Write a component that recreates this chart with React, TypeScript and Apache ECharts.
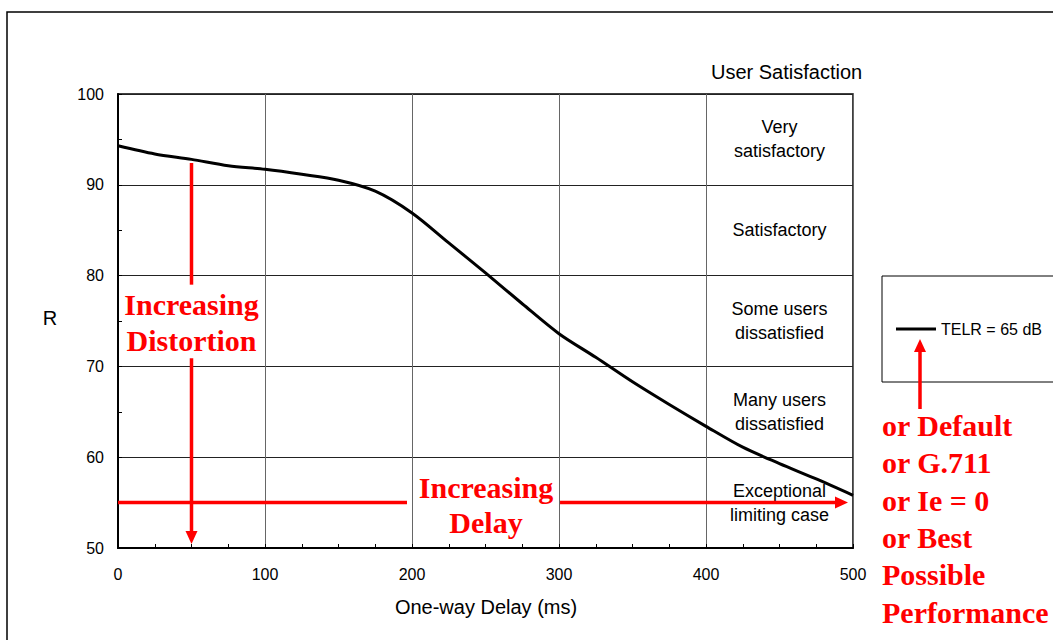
import React, { useEffect, useRef } from "react";
import * as echarts from "echarts";

const SANS = "'Liberation Sans', Arial, sans-serif";
const SERIF = "'Liberation Serif', 'Times New Roman', serif";

const seriesName = "TELR = 65 dB";
const delays = [0, 25, 50, 75, 100, 125, 150, 175, 200, 225, 250, 275, 300, 325, 350, 375, 400, 425, 450, 475, 500];
const rValues = [94.3, 93.4, 92.8, 92.1, 91.7, 91.15, 90.5, 89.3, 86.9, 83.6, 80.3, 76.9, 73.6, 71.0, 68.3, 65.8, 63.4, 61.1, 59.3, 57.6, 55.8];

const zoneNames = ["Very\nsatisfactory", "Satisfactory", "Some users\ndissatisfied", "Many users\ndissatisfied", "Exceptional\nlimiting case"];
const zoneTop = [100, 90, 80, 70, 60];
const zoneBottom = [90, 80, 70, 60, 50];
const zoneColumn = [400, 500];

const xMin = 0, xMax = 500, xStep = 100;
const yMin = 50, yMax = 100, yStep = 10;

// annotation anchors (data units)
const distortionX = 50;
const distortionR = [92.4, 79.0, 70.9, 50.45];
const delayR = 55;
const delayX = [0, 196.6, 300.7, 496.6];

const rightNote = "or Default\nor G.711\nor Ie = 0\nor Best\nPossible\nPerformance";

export default function App() {
  const ref = useRef<HTMLDivElement>(null);
  useEffect(() => {
    if (!ref.current) return;
    const chart = echarts.init(ref.current, null, { renderer: "svg" });
    const option: any = {
      animation: false,
      backgroundColor: "#fff",
      textStyle: { fontFamily: SANS },
      grid: { left: 118, top: 94, width: 735, height: 454, show: true, borderColor: "#000", borderWidth: 1.5, containLabel: false },
      xAxis: {
        type: "value", min: xMin, max: xMax, interval: xStep,
        axisLine: { lineStyle: { color: "#000", width: 2 } },
        axisTick: { show: true, inside: true, length: 4, lineStyle: { color: "#000" } },
        minorTick: { show: true, splitNumber: 4, length: 4, lineStyle: { color: "#000", width: 1 } },
        splitLine: { show: true, lineStyle: { color: "#666", width: 1 } },
        axisLabel: { fontSize: 16, color: "#000", margin: 18, fontFamily: SANS },
      },
      yAxis: {
        type: "value", min: yMin, max: yMax, interval: yStep,
        axisLine: { show: true, lineStyle: { color: "#000", width: 2 } },
        axisTick: { show: true, inside: true, length: 4, lineStyle: { color: "#000" } },
        minorTick: { show: true, splitNumber: 2, length: 4, lineStyle: { color: "#000", width: 1 } },
        splitLine: { show: true, lineStyle: { color: "#222", width: 1 } },
        axisLabel: { fontSize: 16, color: "#000", margin: 14, fontFamily: SANS },
      },
      legend: {
        data: [{ name: seriesName, icon: "rect" }], left: 882, top: 276, orient: "horizontal",
        padding: [45, 40, 45, 14], borderColor: "#000", borderWidth: 1,
        itemWidth: 40, itemHeight: 3,
        itemStyle: { color: "#000", borderWidth: 0 },
        textStyle: { fontSize: 16, color: "#000", fontFamily: SANS },
      },
      series: [
        {
          name: seriesName, type: "line", smooth: 0.3, symbol: "none",
          data: delays.map((d, i) => [d, rValues[i]]),
          lineStyle: { color: "#000", width: 3 }, itemStyle: { color: "#000" },
          markArea: {
            silent: true,
            itemStyle: { color: "rgba(0,0,0,0)" },
            label: { show: true, position: "inside", fontSize: 18, color: "#000", lineHeight: 24, fontFamily: SANS },
            data: zoneNames.map((n, i) => [
              { name: n, xAxis: zoneColumn[0], yAxis: zoneTop[i] },
              { xAxis: zoneColumn[1], yAxis: zoneBottom[i] },
            ]),
          },
        },
      ],
    };
    chart.setOption(option);

    const p = (x: number, y: number) => chart.convertToPixel({ gridIndex: 0 }, [x, y]) as number[];
    const red = "#ff0000";
    const lw = 3.5;
    const head = 13, half = 6;
    const v0 = p(distortionX, distortionR[0]), v1 = p(distortionX, distortionR[1]);
    const v2 = p(distortionX, distortionR[2]), v3 = p(distortionX, distortionR[3]);
    const h0 = p(delayX[0], delayR), h1 = p(delayX[1], delayR);
    const h2 = p(delayX[2], delayR), h3 = p(delayX[3], delayR);
    const rx = 920, rTop = 339, rBottom = 409;

    const graphic: any[] = [
      { type: "rect", silent: true, z: 0, shape: { x: 7, y: 12, width: 1080, height: 660 }, style: { fill: "none", stroke: "#000", lineWidth: 1.5 } },
      { type: "text", x: 711, y: 72, style: { text: "User Satisfaction", fontSize: 20, fontFamily: SANS, fill: "#000", textAlign: "left", textVerticalAlign: "middle" } },
      { type: "text", x: 50, y: 318, style: { text: "R", fontSize: 20, fontFamily: SANS, fill: "#000", textAlign: "center", textVerticalAlign: "middle" } },
      { type: "text", x: 486, y: 607, style: { text: "One-way Delay (ms)", fontSize: 20, fontFamily: SANS, fill: "#000", textAlign: "center", textVerticalAlign: "middle" } },
      // distortion arrow
      { type: "line", z: 50, shape: { x1: v0[0], y1: v0[1], x2: v1[0], y2: v1[1] }, style: { stroke: red, lineWidth: lw } },
      { type: "line", z: 50, shape: { x1: v2[0], y1: v2[1], x2: v3[0], y2: v3[1] - head + 1 }, style: { stroke: red, lineWidth: lw } },
      { type: "polygon", z: 50, shape: { points: [[v3[0] - half, v3[1] - head], [v3[0] + half, v3[1] - head], [v3[0], v3[1]]] }, style: { fill: red } },
      // delay arrow
      { type: "line", z: 50, shape: { x1: h0[0], y1: h0[1], x2: h1[0], y2: h1[1] }, style: { stroke: red, lineWidth: lw } },
      { type: "line", z: 50, shape: { x1: h2[0], y1: h2[1], x2: h3[0] - head + 1, y2: h3[1] }, style: { stroke: red, lineWidth: lw } },
      { type: "polygon", z: 50, shape: { points: [[h3[0] - head, h3[1] - half], [h3[0] - head, h3[1] + half], [h3[0], h3[1]]] }, style: { fill: red } },
      // right arrow
      { type: "line", z: 50, shape: { x1: rx, y1: rBottom, x2: rx, y2: rTop + head - 1 }, style: { stroke: red, lineWidth: lw } },
      { type: "polygon", z: 50, shape: { points: [[rx - half, rTop + head], [rx + half, rTop + head], [rx, rTop]] }, style: { fill: red } },
      // red texts
      { type: "text", z: 60, x: (v0[0]), y: 286, style: { text: "Increasing\nDistortion", fontSize: 30, fontWeight: "bold", fontFamily: SERIF, fill: red, textAlign: "center", textVerticalAlign: "top", lineHeight: 36 } },
      { type: "text", z: 60, x: 486, y: 470, style: { text: "Increasing\nDelay", fontSize: 30, fontWeight: "bold", fontFamily: SERIF, fill: red, textAlign: "center", textVerticalAlign: "top", lineHeight: 35 } },
      { type: "text", z: 60, x: 882, y: 407, style: { text: rightNote, fontSize: 30, fontWeight: "bold", fontFamily: SERIF, fill: red, textAlign: "left", textVerticalAlign: "top", lineHeight: 37.3 } },
    ];
    chart.setOption({ graphic });
    return () => chart.dispose();
  }, []);
  return <div ref={ref} style={{ position: "fixed", left: 0, top: 0, width: 1053, height: 640 }} />;
}
